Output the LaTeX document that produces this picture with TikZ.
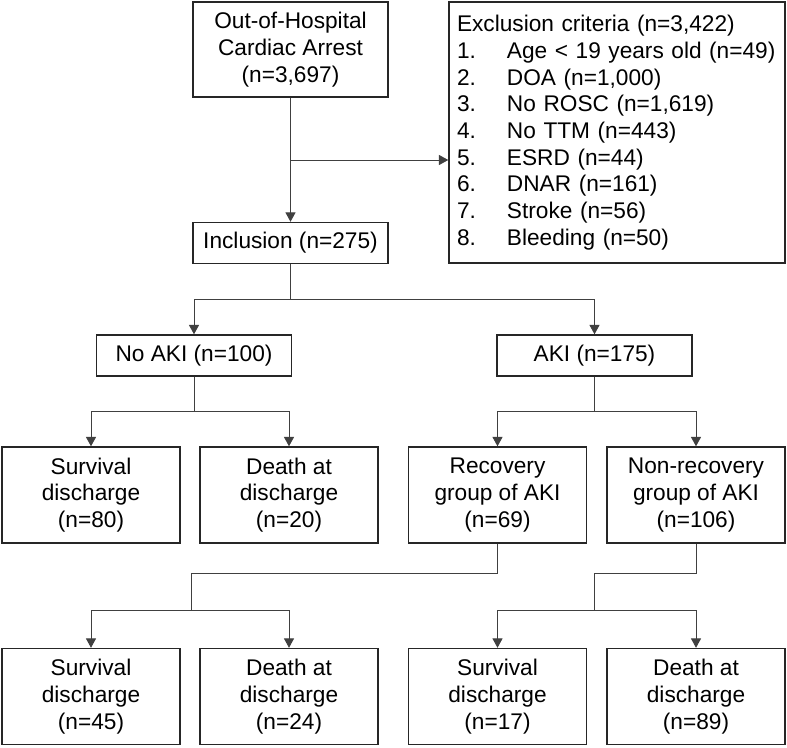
\documentclass[tikz,border=0pt]{standalone}
\usepackage{fontspec}
\setmainfont{Liberation Sans}
\usetikzlibrary{arrows.meta}
\newcommand\critem[2]{\makebox[37.5pt][l]{#1}#2}
\tikzset{
  box/.style={draw=black!85, line width=1.1pt, align=center, inner sep=2pt,
    font=\fontsize{17}{20}\selectfont},
  midbox/.style={box, minimum width=146.25pt, minimum height=30.75pt},
  leafbox/.style={box, minimum width=133.5pt, minimum height=72pt},
  link/.style={draw=black!75, line width=0.7pt},
  arr/.style={link, -{Triangle[width=7.5pt,length=7pt]}}
}
\begin{document}
\begin{tikzpicture}[x=0.75pt,y=-0.75pt]
  \def\rowa{355.5};
  \def\rowb{495};
  \def\rowc{696.5};
  \useasboundingbox (0,0) rectangle (787,747);
  % top
  \node[box, minimum width=146.25pt, minimum height=71.25pt] (ohca) at (290.5,49.5)
    {Out-of-Hospital\\Cardiac Arrest\\(n=3,697)};
  \node[box, minimum width=252pt, minimum height=195.75pt, text width=240pt,
    inner xsep=6pt, align=left] (excl) at (617,132.5)
    {Exclusion criteria (n=3,422)\\
     \critem{1.}{Age < 19 years old (n=49)}\\
     \critem{2.}{DOA (n=1,000)}\\
     \critem{3.}{No ROSC (n=1,619)}\\
     \critem{4.}{No TTM (n=443)}\\
     \critem{5.}{ESRD (n=44)}\\
     \critem{6.}{DNAR (n=161)}\\
     \critem{7.}{Stroke (n=56)}\\
     \critem{8.}{Bleeding (n=50)}};
  \node[midbox] (incl) at (290.5,243) {Inclusion (n=275)};
  % AKI split
  \node[midbox] (noaki) at (194,\rowa) {No AKI (n=100)};
  \node[midbox] (aki) at (594.5,\rowa) {AKI (n=175)};
  % second row
  \node[leafbox] (surv) at (91,\rowb) {Survival\\discharge\\(n=80)};
  \node[leafbox] (death) at (289,\rowb) {Death at\\discharge\\(n=20)};
  \node[leafbox] (rec) at (497.5,\rowb) {Recovery\\group of AKI\\(n=69)};
  \node[leafbox] (nrec) at (696,\rowb) {Non-recovery\\group of AKI\\(n=106)};
  % third row
  \node[leafbox] (recsurv) at (91,\rowc) {Survival\\discharge\\(n=45)};
  \node[leafbox] (recdeath) at (289,\rowc) {Death at\\discharge\\(n=24)};
  \node[leafbox] (nrecsurv) at (497.5,\rowc) {Survival\\discharge\\(n=17)};
  \node[leafbox] (nrecdeath) at (696,\rowc) {Death at\\discharge\\(n=89)};
  % connectors
  \coordinate (exsplit) at (290.5,160);
  \coordinate (recjoin) at (191,610);
  \coordinate (nrecjoin) at (594,610);
  \draw[arr] (ohca) -- (incl);
  \draw[arr] (exsplit) -- (exsplit -| excl.west);
  \draw[arr] (incl) -- ++(0,56) -| (noaki);
  \draw[arr] (incl) -- ++(0,56) -| (aki);
  \draw[arr] (noaki) -- ++(0,55.5) -| (surv);
  \draw[arr] (noaki) -- ++(0,55.5) -| (death);
  \draw[arr] (aki) -- ++(0,55.5) -| (rec);
  \draw[arr] (aki) -- ++(0,55.5) -| (nrec);
  \draw[link] (rec) -- ++(0,78) -| (recjoin);
  \draw[arr] (recjoin) -| (recsurv);
  \draw[arr] (recjoin) -| (recdeath);
  \draw[link] (nrec) -- ++(0,78) -| (nrecjoin);
  \draw[arr] (nrecjoin) -| (nrecsurv);
  \draw[arr] (nrecjoin) -| (nrecdeath);
\end{tikzpicture}
\end{document}
